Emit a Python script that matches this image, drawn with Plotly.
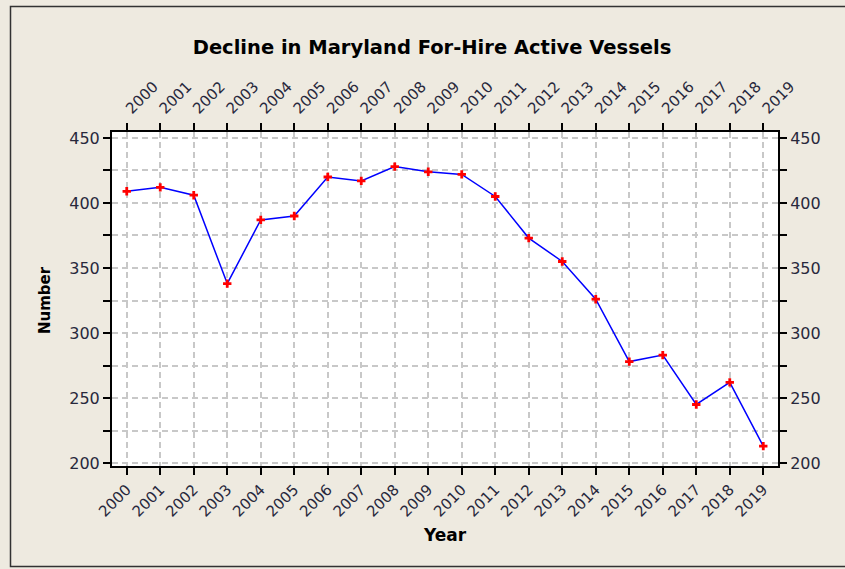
import plotly.graph_objects as go

# Data
years = list(range(2000, 2020))
vessels = [409, 412, 406, 338, 387, 390, 420, 417, 428, 424,
           422, 405, 373, 355, 326, 278, 283, 245, 262, 213]

y_ticks = [200, 225, 250, 275, 300, 325, 350, 375, 400, 425, 450]
y_labels = ['200', '', '250', '', '300', '', '350', '', '400', '', '450']
x_labels = [str(y) for y in years]

FONT = "DejaVu Sans"
BG = 'rgb(238, 234, 224)'
GRID = 'rgb(200, 200, 200)'
TICK_COLOR = 'rgb(40, 40, 60)'

# plot area in pixels
L, R, T, B = 112, 778, 132, 466
PW, PH = R - L, B - T

fig = go.Figure()

fig.add_trace(go.Scatter(
    x=years, y=vessels,
    mode='lines+markers',
    line=dict(color='rgb(0, 0, 255)', width=1.5),
    marker=dict(symbol='cross', size=7, color='rgb(255, 0, 0)'),
    showlegend=False,
))

# invisible copy so the top/right axes get drawn
fig.add_trace(go.Scatter(
    x=years, y=vessels, xaxis='x2', yaxis='y2',
    mode='markers', marker=dict(opacity=0), hoverinfo='skip',
    showlegend=False,
))

x_range = [1999.56, 2019.44]
y_range = [197.7, 454.6]

xaxis_common = dict(
    range=x_range,
    tickvals=years,
    ticktext=x_labels,
    tickangle=-45,
    ticks='outside',
    ticklen=7,
    tickwidth=1.5,
    tickcolor='black',
    tickfont=dict(family=FONT, size=15, color=TICK_COLOR),
    showline=True,
    linecolor='black',
    linewidth=2,
    zeroline=False,
    automargin=False,
)
yaxis_common = dict(
    range=y_range,
    tickvals=y_ticks,
    ticktext=y_labels,
    ticks='outside',
    ticklen=7,
    tickwidth=1.5,
    tickcolor='black',
    tickfont=dict(family=FONT, size=16, color=TICK_COLOR),
    showline=True,
    linecolor='black',
    linewidth=2,
    zeroline=False,
    automargin=False,
)

fig.update_layout(
    width=845,
    height=569,
    margin=dict(l=L, r=845 - R, t=T, b=569 - B, autoexpand=False),
    paper_bgcolor=BG,
    plot_bgcolor='white',
    title=dict(
        text='<b>Decline in Maryland For-Hire Active Vessels</b>',
        x=432 / 845, xanchor='center',
        y=1 - 47 / 569, yanchor='middle',
        font=dict(family=FONT, size=19.5, color='black'),
    ),
    xaxis=dict(
        **xaxis_common,
        side='bottom',
        showgrid=True, gridcolor=GRID, gridwidth=1.5, griddash='6px,4px',
    ),
    xaxis2=dict(
        **xaxis_common,
        side='top',
        overlaying='x',
        showgrid=False,
    ),
    yaxis=dict(
        **yaxis_common,
        side='left',
        showgrid=True, gridcolor=GRID, gridwidth=1.5, griddash='6px,4px',
    ),
    yaxis2=dict(
        **yaxis_common,
        side='right',
        overlaying='y',
        showgrid=False,
    ),
    annotations=[
        dict(text='<b>Year</b>', xref='paper', yref='paper',
             x=(445 - L) / PW, y=(B - 535) / PH, xanchor='center', yanchor='middle',
             showarrow=False, font=dict(family=FONT, size=17, color='black')),
        dict(text='<b>Number</b>', xref='paper', yref='paper', textangle=-90,
             x=(45 - L) / PW, y=(B - 300) / PH, xanchor='center', yanchor='middle',
             showarrow=False, font=dict(family=FONT, size=15, color='black')),
    ],
    shapes=[dict(
        type='rect', xref='paper', yref='paper',
        x0=(10.5 - L) / PW, x1=(860 - L) / PW,
        y0=(B - 566.5) / PH, y1=(B - 6.5) / PH,
        line=dict(color='rgb(50, 50, 50)', width=1.5),
        fillcolor='rgba(0,0,0,0)', layer='below',
    )],
)

# drop the default page margin so the figure sits at the window origin
fig.write_html("out.html", config={'displayModeBar': False},
               post_script="document.body.style.margin='0';")
